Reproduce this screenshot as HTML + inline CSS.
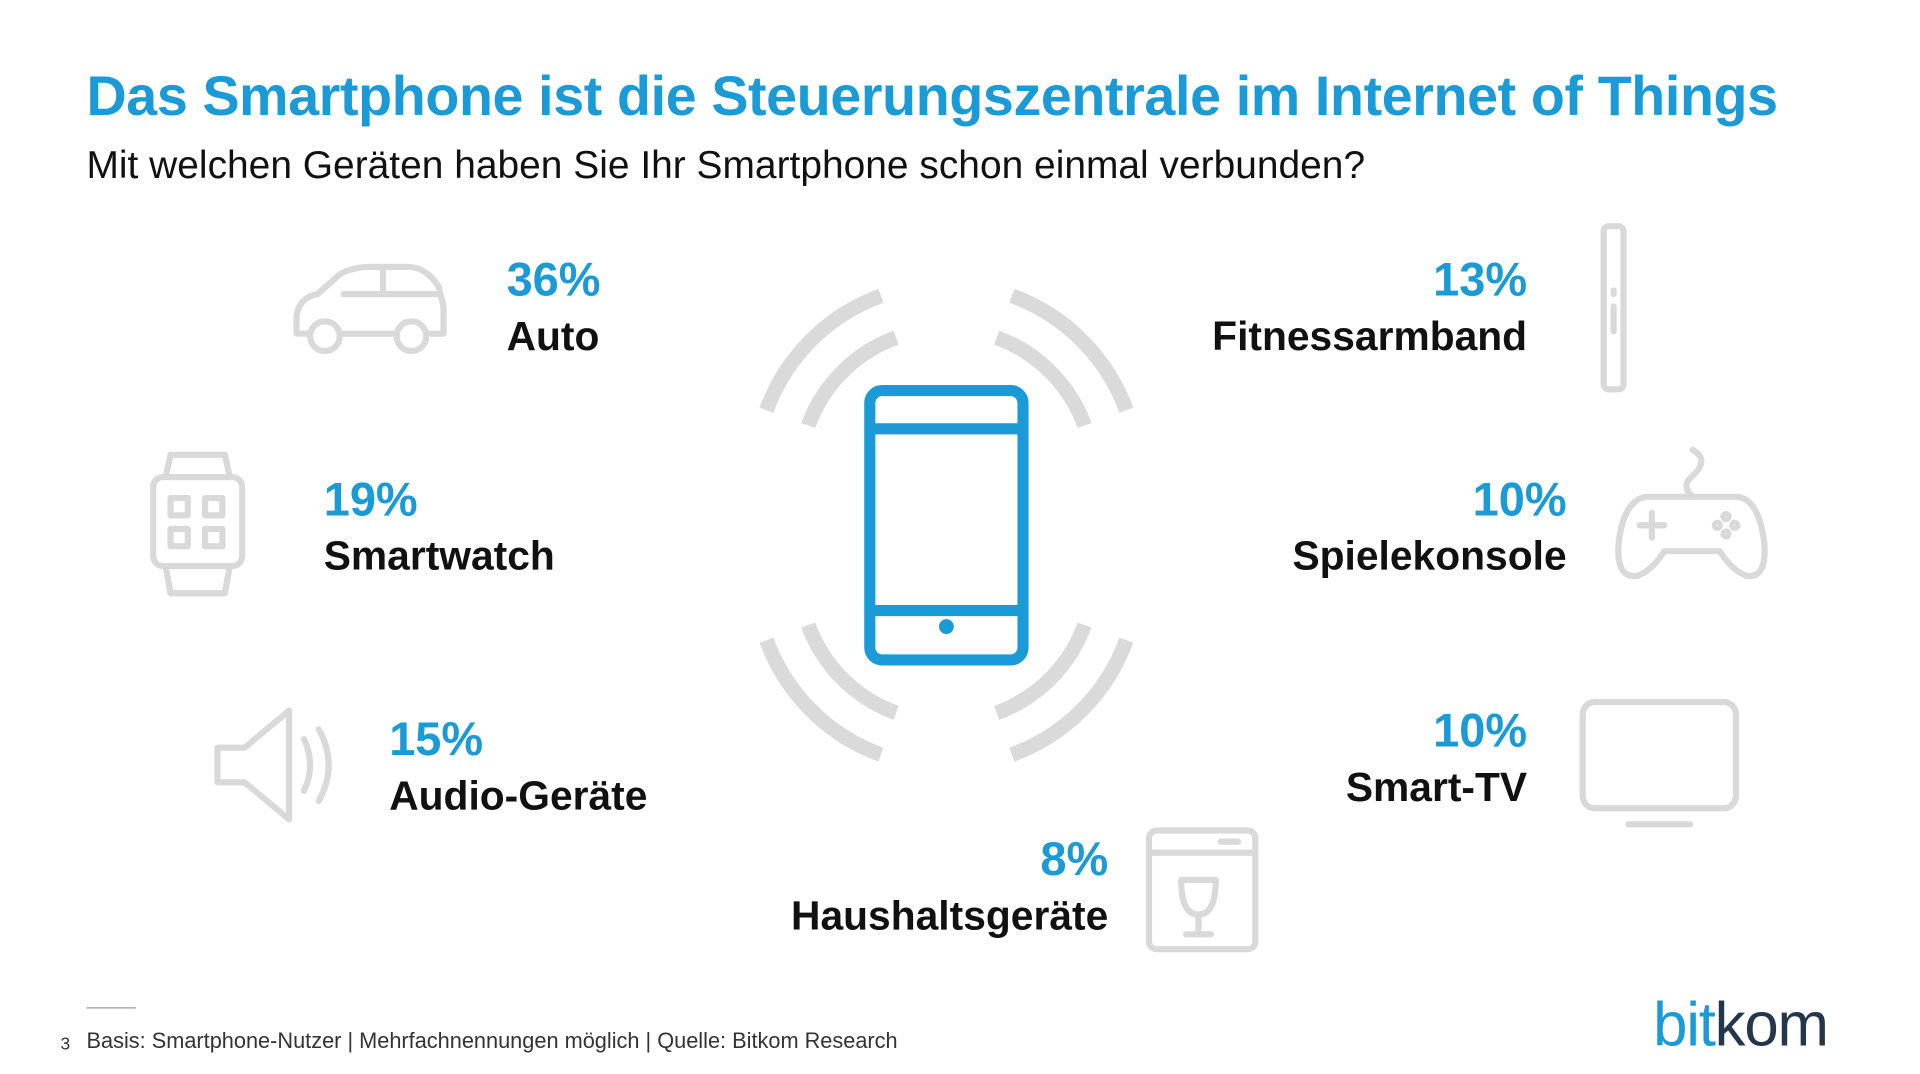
<!DOCTYPE html>
<html><head><meta charset="utf-8"><style>
html,body{margin:0;padding:0;background:#fff;overflow:hidden}
#stage{position:absolute;left:0;top:0;width:1554px;height:869px;transform:scale(1.23552,1.23590);transform-origin:0 0;font-family:"Liberation Sans",sans-serif}
.t{position:absolute;white-space:nowrap}
.pct{font-weight:bold;color:#1a9ad6;font-size:38px;line-height:44px}
.lab{font-weight:bold;color:#111;font-size:33px;line-height:46px}
</style></head><body>
<div id="stage">
<div class="t" style="left:70px;top:52px;font-size:45px;font-weight:bold;color:#1a9ad6;letter-spacing:-0.3px">Das Smartphone ist die Steuerungszentrale im Internet of Things</div>
<div class="t" style="left:70px;top:115px;font-size:31.5px;color:#111">Mit welchen Geräten haben Sie Ihr Smartphone schon einmal verbunden?</div>
<svg id="art" width="1554" height="869" style="position:absolute;left:0;top:0">
<g fill="none" stroke="#d9d9d9" stroke-width="5" stroke-linecap="round" stroke-linejoin="round">
<g><path d="M240 270 L240 255 Q243 240 257 238 L275 222 Q285 216 300 216 L330 216 Q345 216 355 232 L359 248 L359 270 Z"/><line x1="278" y1="238" x2="355" y2="238"/><line x1="310" y1="218" x2="310" y2="238"/><circle cx="263" cy="272" r="12" fill="#fff"/><circle cx="333" cy="272" r="12" fill="#fff"/></g>
<g><rect x="124" y="386" width="72" height="72" rx="8"/><path d="M134 386 L138 368 L182 368 L186 386 M134 458 L138 480 L182 480 L186 458"/><rect x="138" y="403" width="14" height="14"/><rect x="166" y="403" width="14" height="14"/><rect x="138" y="428" width="14" height="14"/><rect x="166" y="428" width="14" height="14"/></g>
<g><path d="M176 605 L198 605 L234 575 L234 663 L198 633 L176 633 Z"/><path d="M246 598 Q256 619 246 640"/><path d="M258 590 Q274 619 258 648"/></g>
<g><rect x="1298" y="183" width="16" height="132" rx="4"/><line x1="1306" y1="235" x2="1306" y2="238"/><line x1="1306" y1="248" x2="1306" y2="268"/></g>
<g><path d="M1370 364 Q1384 372 1370 385 Q1360 393 1370 402"/><path d="M1332 402 L1407 402 Q1424 405 1428 440 Q1430 468 1414 466 Q1402 462 1392 446 L1347 446 Q1337 462 1325 466 Q1308 468 1310 440 Q1314 405 1332 402 Z"/><line x1="1327" y1="425" x2="1347" y2="425"/><line x1="1337" y1="415" x2="1337" y2="435"/><circle cx="1397" cy="418" r="2"/><circle cx="1404" cy="425" r="2"/><circle cx="1390" cy="425" r="2"/><circle cx="1397" cy="432" r="2"/></g>
<g><rect x="1281" y="568" width="124" height="86" rx="10"/><line x1="1318" y1="667" x2="1368" y2="667"/></g>
<g><rect x="930" y="672" width="86" height="96" rx="6"/><line x1="930" y1="690" x2="1016" y2="690"/><line x1="988" y1="681" x2="1002" y2="681"/><path d="M956 712 Q956 740 970 740 Q984 740 984 712 Z"/><line x1="970" y1="740" x2="970" y2="756"/><line x1="960" y1="756" x2="980" y2="756"/></g>
</g>
<g id="arcs" fill="none" stroke="#dadada" stroke-width="12"></g>
<g fill="none" stroke="#1a9ad6" stroke-width="9">
<rect x="704" y="316" width="124" height="218" rx="10"/><line x1="704" y1="347" x2="828" y2="347"/><line x1="704" y1="494" x2="828" y2="494"/>
<circle cx="766" cy="507" r="6" fill="#1a9ad6" stroke="none"/></g>
</svg>
<div id="labels"></div>
<div style="position:absolute;left:70px;top:815px;width:40px;height:1px;background:#999"></div>
<div class="t" style="left:49px;top:836px;font-size:14px;color:#333">3</div>
<div class="t" style="left:70px;top:832px;font-size:17.6px;color:#333">Basis: Smartphone-Nutzer | Mehrfachnennungen möglich | Quelle: Bitkom Research</div>
<div class="t" style="left:1338px;top:800px;font-size:50px;letter-spacing:-1px"><span style="color:#1a9ad6">bit</span><span style="color:#24364c">kom</span></div>
</div>
<script>
const categories=["Auto","Smartwatch","Audio-Geräte","Haushaltsgeräte","Fitnessarmband","Spielekonsole","Smart-TV"];
const values=[36,19,15,8,13,10,10];
const anchors=[[410,"l",205],[262,"l",383],[315,"l",577],[897,"r",674],[1236,"r",205],[1268,"r",383],[1236,"r",570]];
const box=document.getElementById('labels');
categories.forEach((c,i)=>{
  const a=anchors[i];
  const d=document.createElement('div');
  
  
  d.className='t';
  d.style.top=a[2]+'px';
  if(a[1]==='l'){d.style.left=a[0]+'px';d.style.textAlign='left';}
  else{d.style.right=(1554-a[0])+'px';d.style.textAlign='right';}
  const p=document.createElement('div');p.className='pct';p.textContent=values[i]+'%';
  
  
  const l=document.createElement('div');l.className='lab';l.textContent=c;
  
  
  d.appendChild(p);d.appendChild(l);box.appendChild(d);
});
const arcs=document.getElementById('arcs');
function arc(cx,cy,r,a0,a1){const t=x=>x*Math.PI/180;
 return `M${cx+r*Math.cos(t(a0))} ${cy+r*Math.sin(t(a0))} A${r} ${r} 0 0 1 ${cx+r*Math.cos(t(a1))} ${cy+r*Math.sin(t(a1))}`;}
[[385,200,250],[385,290,340],[465,20,70],[465,110,160]].forEach(s=>{
  [155,119].forEach(r=>{
    const p=document.createElementNS('http://www.w3.org/2000/svg','path');
    p.setAttribute('d',arc(766,s[0],r,s[1],s[2]));
    
    
    arcs.appendChild(p);
  });
});
</script>
</body></html>
